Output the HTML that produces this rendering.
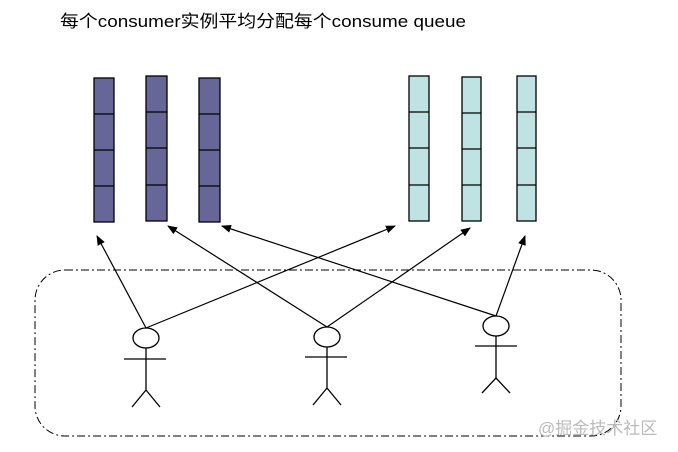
<!DOCTYPE html>
<html><head><meta charset="utf-8"><style>
html,body{margin:0;padding:0;background:#fff;width:678px;height:452px;overflow:hidden}
</style></head><body>
<svg width="678" height="452" xmlns="http://www.w3.org/2000/svg">
<defs><marker id="a" markerWidth="10" markerHeight="8" refX="9" refY="4" orient="auto" markerUnits="userSpaceOnUse"><path d="M0,0 L10,4 L0,8 z" fill="#000"/></marker></defs>
<text x="60" y="27" font-family="Liberation Sans, Noto Sans CJK SC, sans-serif" font-size="17" textLength="406" lengthAdjust="spacingAndGlyphs">每个consumer实例平均分配每个consume queue</text>
<g stroke="#000" stroke-width="1.3">
<g fill="#666699">
<rect x="94" y="78" width="20" height="144"/><line x1="94" y1="114" x2="114" y2="114"/><line x1="94" y1="150" x2="114" y2="150"/><line x1="94" y1="186" x2="114" y2="186"/>
<rect x="146" y="76" width="21" height="145"/><line x1="146" y1="112" x2="167" y2="112"/><line x1="146" y1="148" x2="167" y2="148"/><line x1="146" y1="185" x2="167" y2="185"/>
<rect x="199" y="78" width="21" height="144"/><line x1="199" y1="114" x2="220" y2="114"/><line x1="199" y1="150" x2="220" y2="150"/><line x1="199" y1="186" x2="220" y2="186"/>
</g>
<g fill="#bfe3e3">
<rect x="409" y="76" width="20" height="145"/><line x1="409" y1="112" x2="429" y2="112"/><line x1="409" y1="148" x2="429" y2="148"/><line x1="409" y1="185" x2="429" y2="185"/>
<rect x="462" y="77" width="19" height="144"/><line x1="462" y1="113" x2="481" y2="113"/><line x1="462" y1="149" x2="481" y2="149"/><line x1="462" y1="185" x2="481" y2="185"/>
<rect x="517" y="76" width="19" height="145"/><line x1="517" y1="112" x2="536" y2="112"/><line x1="517" y1="148" x2="536" y2="148"/><line x1="517" y1="185" x2="536" y2="185"/>
</g>
</g>
<rect x="35" y="270" width="586" height="166" rx="30" fill="none" stroke="#000" stroke-width="1" stroke-dasharray="8,3,2,3"/>
<g stroke="#000" stroke-width="1.2" fill="none" marker-end="url(#a)">
<line x1="146" y1="328" x2="97" y2="236"/>
<line x1="146" y1="328" x2="395" y2="226"/>
<line x1="327" y1="327" x2="168" y2="226"/>
<line x1="327" y1="327" x2="470" y2="228"/>
<line x1="496" y1="316" x2="222" y2="226"/>
<line x1="496" y1="316" x2="525" y2="236"/>
</g>
<g stroke="#000" stroke-width="1.3" fill="#fff">
<ellipse cx="146" cy="338" rx="13" ry="10"/>
<path d="M146 348V390M124 359H166M146 390L132 407M146 390L160 407" fill="none"/>
<ellipse cx="327" cy="337" rx="13" ry="10"/>
<path d="M327 347V388M305 357H347M327 388L313 405M327 388L341 405" fill="none"/>
<ellipse cx="496" cy="326" rx="13" ry="10"/>
<path d="M496 336V378M475 346H517M496 378L482 393M496 378L510 393" fill="none"/>
</g>
<text x="538" y="434" font-family="Liberation Sans, Noto Sans CJK SC, sans-serif" font-size="17" fill="#bbb">@掘金技术社区</text>
</svg>
</body></html>
